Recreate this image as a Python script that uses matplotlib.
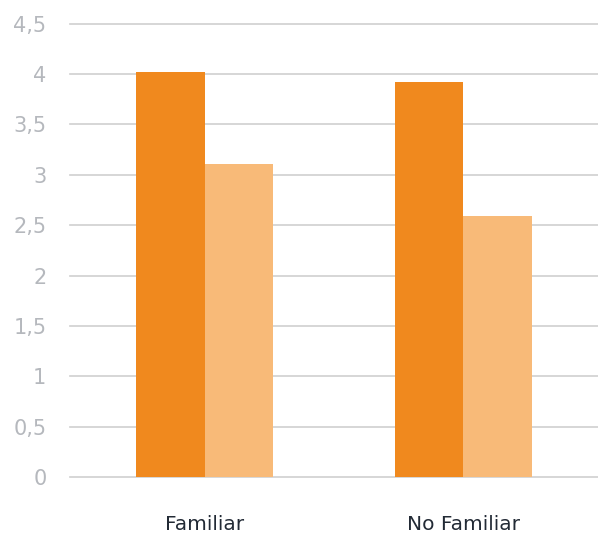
import matplotlib.pyplot as plt
import numpy as np

categories = ["Familiar", "No Familiar"]
series_a = [4.02, 3.92]
series_b = [3.11, 2.59]
yticks = [0, 0.5, 1, 1.5, 2, 2.5, 3, 3.5, 4, 4.5]
ytick_labels = ["0", "0,5", "1", "1,5", "2", "2,5", "3", "3,5", "4", "4,5"]


def main():
    fig = plt.figure(figsize=(5.98, 5.34), dpi=100)
    ax = fig.add_axes([70 / 598, (534 - 477.3) / 534, 1 - 70 / 598, (477.3 - 23.5) / 534])

    x = np.arange(len(categories))
    w = 0.265
    ax.bar(x - w / 2, series_a, w, color="#F0891E", zorder=3)
    ax.bar(x + w / 2, series_b, w, color="#F8BA78", zorder=3)

    ax.set_xlim(-0.52, 1.52)
    ax.set_ylim(0, 4.5)
    ax.set_yticks(yticks)
    ax.set_yticklabels(ytick_labels, fontsize=15, color="#b5b8bd")
    ax.set_xticks(x)
    ax.set_xticklabels(categories, fontsize=14.5, color="#222a35")
    ax.tick_params(axis="y", length=0, pad=17)
    ax.tick_params(axis="x", length=0, pad=27)
    ax.grid(axis="y", color="#cfcfcf", linewidth=1.2, zorder=0)
    for gl in ax.get_ygridlines():
        gl.set_clip_on(False)
    ax.set_axisbelow(True)
    for s in ax.spines.values():
        s.set_visible(False)
    for lbl in ax.get_yticklabels():
        lbl.set_horizontalalignment("right")

    fig.savefig("out.png", dpi=100)


if __name__ == "__main__":
    main()
